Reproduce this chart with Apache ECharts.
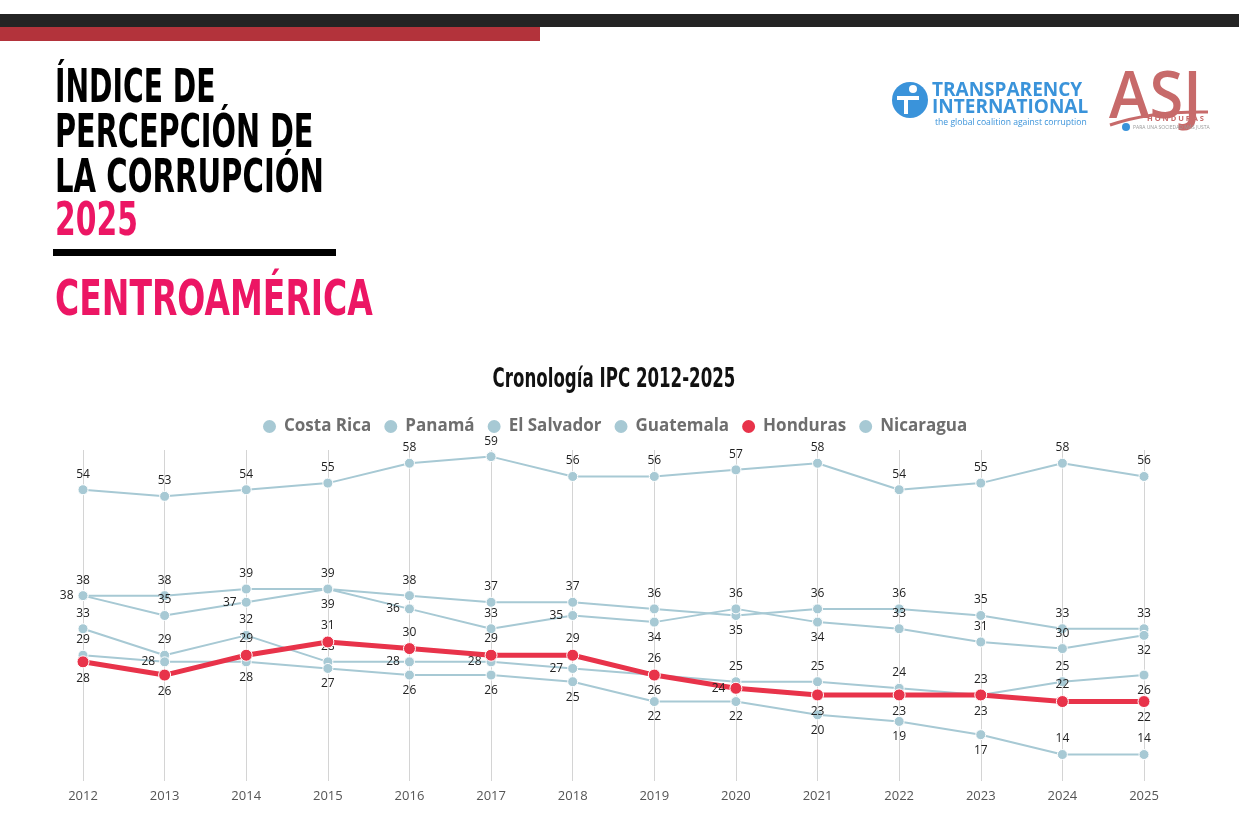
<!DOCTYPE html>
<html>
<head>
<meta charset="utf-8">
<title>Cronología IPC 2012-2025</title>
<script src="https://cdn.jsdelivr.net/npm/echarts@6/dist/echarts.min.js"></script>
<style>
  html, body { margin: 0; padding: 0; background: #fff; }
  #main { width: 1239px; height: 815px; }
</style>
</head>
<body>
<div id="main"></div>
<script>
// datos IPC Centroamérica
var years = ['2012', '2013', '2014', '2015', '2016', '2017', '2018', '2019', '2020', '2021', '2022', '2023', '2024', '2025'];
var countries = ['Costa Rica', 'Panamá', 'El Salvador', 'Guatemala', 'Honduras', 'Nicaragua'];

var costaRica  = [54, 53, 54, 55, 58, 59, 56, 56, 57, 58, 54, 55, 58, 56];
var panama     = [38, 35, 37, 39, 38, 37, 37, 36, 35, 36, 36, 35, 33, 33];
var elSalvador = [38, 38, 39, 39, 36, 33, 35, 34, 36, 34, 33, 31, 30, 32];
var guatemala  = [33, 29, 32, 28, 28, 28, 27, 26, 25, 25, 24, 23, 25, 26];
var honduras   = [28, 26, 29, 31, 30, 29, 29, 26, 24, 23, 23, 23, 22, 22];
var nicaragua  = [29, 28, 28, 27, 26, 26, 25, 22, 22, 20, 19, 17, 14, 14];

var seriesValues = [costaRica, panama, elSalvador, guatemala, honduras, nicaragua];

// donde va cada etiqueta (t = arriba, b = abajo, l = izquierda)
var labelPos = [
  'tttttttttttttt',
  'ltlbttttbttttt',
  'ttttltlbtbtttb',
  'ttttlllbtttttb',
  'bbttttttlbbbtb',
  'tlbbbbbbbbbbtt'
];
var posName = { t: 'top', b: 'bottom', l: 'left' };

var blue = '#a7c9d4';
var red = '#e8334a';
var pink = '#ec1664';

var mychart = echarts.init(document.getElementById('main'));

function buildSeries(idx) {
  var isHN = countries[idx] === 'Honduras';
  var data = seriesValues[idx].map(function (v, i) {
    return {
      value: v,
      label: { position: posName[labelPos[idx].charAt(i)] }
    };
  });
  return {
    name: countries[idx],
    type: 'line',
    data: data,
    color: isHN ? red : blue,
    z: isHN ? 5 : 2,
    symbol: 'circle',
    symbolSize: isHN ? 12 : 10,
    lineStyle: { width: isHN ? 5 : 2, color: isHN ? red : blue },
    itemStyle: { color: isHN ? red : blue, borderColor: '#fff', borderWidth: 1 },
    label: {
      show: true,
      color: '#222',
      fontSize: 12,
      fontFamily: 'Open Sans',
      distance: 4
    },
    emphasis: { disabled: true }
  };
}

var series = [];
for (var k = 0; k < countries.length; k++) {
  series.push(buildSeries(k));
}

var bigFont = 'bold 46px "DejaVu Sans", sans-serif';

// texto estrecho (no hay Oswald) -> se comprime con scaleX
function narrowText(txt, x, y, font, color, sx, align) {
  return {
    type: 'text', x: x, y: y, scaleX: sx,
    style: { text: txt, font: font, fill: color, verticalAlign: 'top', align: align || 'left' }
  };
}

function plainText(txt, x, y, font, color) {
  return {
    type: 'text', x: x, y: y,
    style: { text: txt, font: font, fill: color, verticalAlign: 'top', align: 'left' }
  };
}

var header = [
  // barras superiores
  { type: 'rect', shape: { x: 0, y: 14, width: 1239, height: 13 }, style: { fill: '#242424' } },
  { type: 'rect', shape: { x: 0, y: 27, width: 540, height: 14 }, style: { fill: '#b3333b' } },
  // titulo grande
  narrowText('ÍNDICE DE', 55, 67, bigFont, '#000', 0.613),
  narrowText('PERCEPCIÓN DE', 55, 112, bigFont, '#000', 0.625),
  narrowText('LA CORRUPCIÓN', 55, 157, bigFont, '#000', 0.634),
  narrowText('2025', 55, 200, bigFont, pink, 0.647),
  { type: 'rect', shape: { x: 53, y: 249, width: 283, height: 7 }, style: { fill: '#000' } },
  narrowText('CENTROAMÉRICA', 55, 277, 'bold 50px "DejaVu Sans", sans-serif', pink, 0.66),
  // titulo del grafico
  narrowText('Cronología IPC 2012-2025', 614, 367, 'bold 26px "DejaVu Sans", sans-serif', '#111', 0.64, 'center'),
  // logo Transparency International
  { type: 'circle', shape: { cx: 910, cy: 100, r: 18 }, style: { fill: '#3a93da' } },
  { type: 'circle', shape: { cx: 913, cy: 89, r: 4 }, style: { fill: '#fff' } },
  { type: 'rect', shape: { x: 904, y: 96, width: 4, height: 18 }, style: { fill: '#fff' } },
  { type: 'rect', shape: { x: 897, y: 96, width: 22, height: 4 }, style: { fill: '#fff' } },
  plainText('TRANSPARENCY', 932, 81, 'bold 19px "Open Sans", sans-serif', '#3a93da'),
  plainText('INTERNATIONAL', 932, 98, 'bold 19px "Open Sans", sans-serif', '#3a93da'),
  plainText('the global coalition against corruption', 935, 118, '8.6px "Open Sans", sans-serif', '#3a93da'),
  // logo ASJ
  narrowText('ASJ', 1109, 66, '600 66px "Open Sans", sans-serif', '#c76a6a', 0.93),
  {
    type: 'bezierCurve',
    shape: { x1: 1110, y1: 125, x2: 1208, y2: 112, cpx1: 1150, cpy1: 111 },
    style: { stroke: '#c76a6a', lineWidth: 3, fill: null }
  },
  plainText('H O N D U R A S', 1147, 115, 'bold 7.5px "Open Sans", sans-serif', '#c76a6a'),
  plainText('PARA UNA SOCIEDAD MÁS JUSTA', 1133, 125, '5px "Open Sans", sans-serif', '#999'),
  { type: 'circle', shape: { cx: 1126, cy: 127, r: 4 }, style: { fill: '#3a93da' } }
];

var option = {
  backgroundColor: '#fff',
  animation: false,
  legend: {
    data: countries,
    top: 413,
    left: 256,
    icon: 'circle',
    itemWidth: 15,
    itemHeight: 15,
    itemGap: 11,
    textStyle: { fontFamily: 'Open Sans', fontWeight: 'bold', fontSize: 17, color: '#6e6e6e', padding: [0, 0, 0, 2] }
  },
  grid: { left: 83, right: 95, top: 450, bottom: 34 },
  xAxis: {
    type: 'category',
    data: years,
    boundaryGap: false,
    axisLine: { show: false },
    axisTick: { show: false },
    axisLabel: { color: '#555', fontSize: 13, fontFamily: 'Open Sans', margin: 9 },
    splitLine: { show: true, lineStyle: { color: '#d4d4d4', width: 1 } }
  },
  yAxis: {
    type: 'value',
    min: 10,
    max: 60,
    show: false,
    splitLine: { show: false }
  },
  graphic: header,
  series: series
};

mychart.setOption(option);
window.onresize = mychart.resize;
</script>
</body>
</html>
